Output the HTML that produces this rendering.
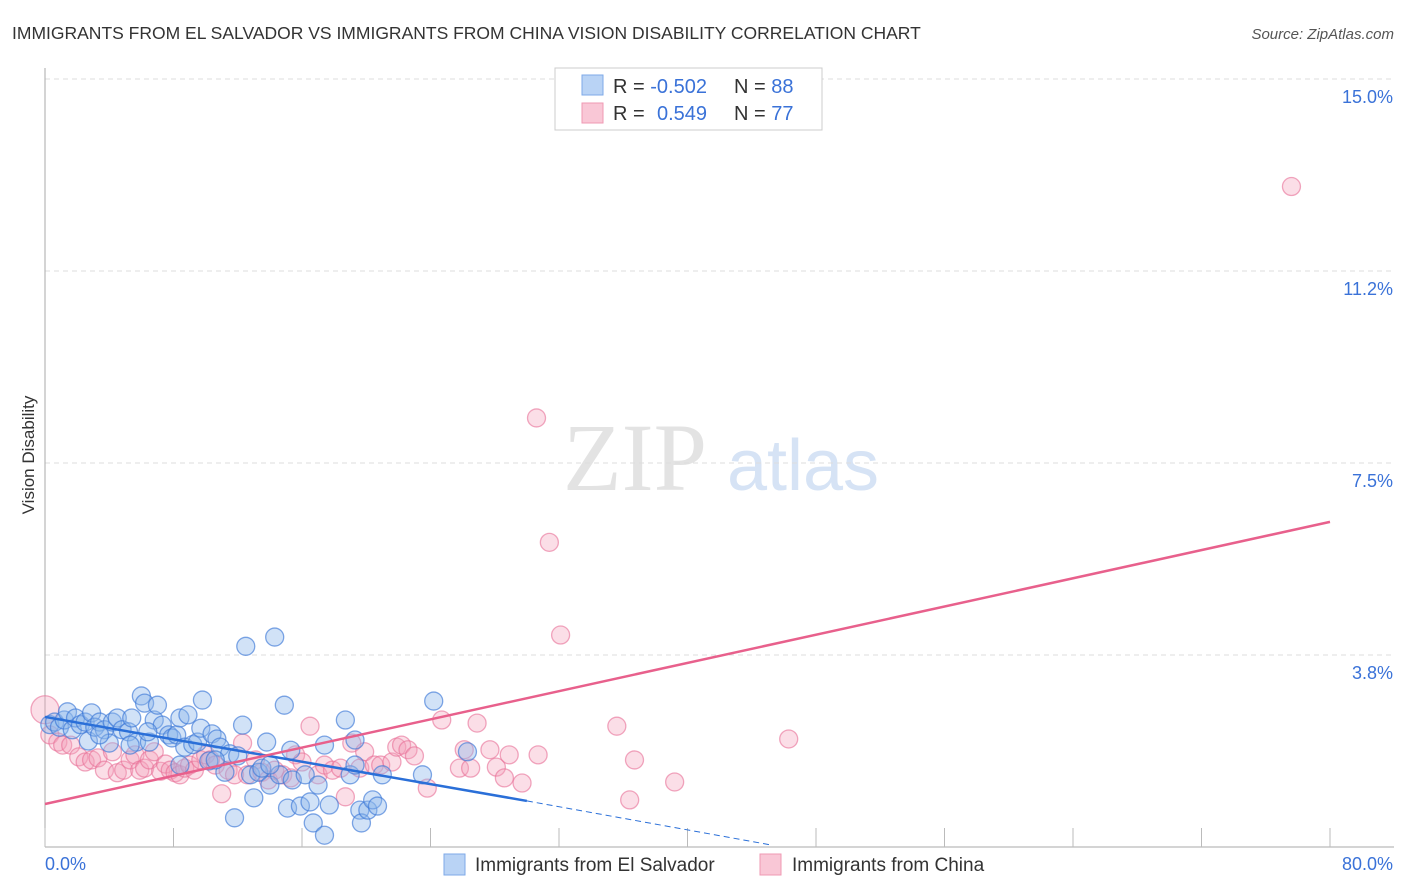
<!DOCTYPE html>
<html><head><meta charset="utf-8"><style>
body{margin:0;background:#fff;font-family:"Liberation Sans",sans-serif;}
svg{display:block}
</style></head><body>
<svg id="chart" width="1406" height="892" xmlns="http://www.w3.org/2000/svg">
<text x="12" y="39" font-size="17.5" fill="#333">IMMIGRANTS FROM EL SALVADOR VS IMMIGRANTS FROM CHINA VISION DISABILITY CORRELATION CHART</text>
<text x="1394" y="39" font-size="15" fill="#555" font-style="italic" text-anchor="end">Source: ZipAtlas.com</text>
<text x="34" y="455" font-size="17" fill="#333" text-anchor="middle" transform="rotate(-90 34 455)">Vision Disability</text>
<g><text x="635" y="490" font-size="96" fill="#e3e3e3" font-family="Liberation Serif,serif" text-anchor="middle">ZIP</text><text x="803" y="490" font-size="72" fill="#d6e3f5" text-anchor="middle">atlas</text></g>
<g id="grid"></g><g id="axes"></g><g id="pts"></g><g id="lines"></g>
<g>
<rect x="555" y="68" width="267" height="62" fill="#fff" stroke="#ccc"/>
<rect x="582" y="75" width="21" height="20" fill="#b9d3f5" stroke="#7eaae8"/>
<rect x="582" y="103" width="21" height="20" fill="#f9c7d6" stroke="#ef98b3"/>
<text x="613" y="93" font-size="20" fill="#333">R = <tspan fill="#3a72d8">-0.502</tspan></text>
<text x="734" y="93" font-size="20" fill="#333">N = <tspan fill="#3a72d8">88</tspan></text>
<text x="613" y="120" font-size="20" fill="#333">R = <tspan fill="#3a72d8" x="657">0.549</tspan></text>
<text x="734" y="120" font-size="20" fill="#333">N = <tspan fill="#3a72d8">77</tspan></text>
</g>
<g>
<rect x="444" y="854" width="21" height="21" fill="#b9d3f5" stroke="#7eaae8"/>
<text x="475" y="871" font-size="19" fill="#333">Immigrants from El Salvador</text>
<rect x="760" y="854" width="21" height="21" fill="#f9c7d6" stroke="#ef98b3"/>
<text x="792" y="871" font-size="19" fill="#333">Immigrants from China</text>
</g>
</svg>
<script>
const xTicks=[0,80];
const yTicks=[3.75,7.5,11.25,15];
const yTickLabels=["3.8%","7.5%","11.2%","15.0%"];
const blueX=[0.3,0.6,0.9,1.2,1.4,1.7,1.9,2.2,2.5,2.7,2.9,3.1,3.4,3.7,4.0,4.2,4.5,4.8,5.2,5.4,5.7,6.0,6.2,6.5,6.8,7.0,7.3,7.7,7.9,8.2,8.4,8.7,8.9,9.2,9.5,9.7,9.8,10.2,10.4,10.7,10.9,11.2,11.5,11.8,12.0,12.3,12.5,12.8,13.0,13.3,13.5,13.8,14.0,14.3,14.6,14.9,15.1,15.4,15.9,16.2,16.5,16.7,17.0,17.4,17.7,18.7,19.0,19.3,19.6,19.7,20.1,20.4,20.7,21.0,23.5,24.2,26.3,17.4,15.3,19.3,14.0,10.6,8.4,6.4,5.3,3.4];
const blueY=[2.39,2.44,2.34,2.48,2.64,2.29,2.52,2.39,2.44,2.07,2.62,2.34,2.44,2.29,2.03,2.44,2.52,2.29,2.25,2.52,2.05,2.95,2.81,2.05,2.48,2.77,2.38,2.19,2.13,2.19,2.52,1.95,2.58,2.0,2.05,2.32,2.87,1.68,2.21,2.11,1.95,1.46,1.82,0.57,1.78,2.38,3.92,1.41,0.96,1.46,1.54,2.05,1.21,4.1,1.41,2.77,0.76,1.31,0.8,1.41,0.88,0.47,1.21,0.23,0.82,2.48,1.41,1.6,0.72,0.47,0.72,0.92,0.8,1.41,1.41,2.85,1.86,1.99,1.89,2.09,1.6,1.70,1.60,2.25,1.99,2.19];
const pinkX=[0.0,0.3,0.8,1.1,1.6,2.1,2.5,2.9,3.3,3.7,4.2,4.5,4.9,5.3,5.6,5.9,6.2,6.5,6.8,7.2,7.5,7.8,8.1,8.4,8.7,9.0,9.3,9.7,10.0,10.3,10.6,11.0,11.4,11.8,12.3,12.6,13.1,13.5,13.9,14.3,14.8,15.3,15.6,16.0,16.5,17.0,17.4,17.9,18.4,18.7,19.1,19.6,19.9,20.5,20.9,21.6,21.9,22.2,22.6,23.0,23.8,24.7,25.8,26.1,26.5,26.9,27.7,28.1,28.6,28.9,29.7,30.7,31.4,30.6,32.1,35.6,36.4,36.7,39.2,46.3,77.6];
const pinkY=[2.68,2.19,2.05,1.99,1.99,1.76,1.66,1.70,1.74,1.50,1.86,1.45,1.50,1.70,1.80,1.50,1.54,1.70,1.86,1.48,1.62,1.50,1.45,1.41,1.54,1.60,1.50,1.70,1.80,1.70,1.60,1.04,1.50,1.41,2.03,1.41,1.70,1.46,1.31,1.50,1.41,1.35,1.80,1.66,2.36,1.41,1.60,1.50,1.54,0.98,2.03,1.54,1.86,1.60,1.60,1.66,1.95,1.99,1.90,1.78,1.15,2.48,1.54,1.90,1.54,2.42,1.90,1.56,1.35,1.80,1.25,1.80,5.95,8.38,4.14,2.36,0.92,1.70,1.27,2.11,12.9];
const blueLine=[0,2.54,30,0.90];const blueDash=[30,0.90,45.2,0.04];
const pinkLine=[0,0.84,80,6.35];
const X=v=>45+v*1285/80, Y=v=>847-v*51.2;
const NS="http://www.w3.org/2000/svg";
function mk(t,a,p){const e=document.createElementNS(NS,t);for(const k in a)e.setAttribute(k,a[k]);document.getElementById(p).appendChild(e);return e;}
yTicks.forEach((t,i)=>{
 const g=mk('line',{x1:45,x2:1394,y1:Y(t),y2:Y(t),stroke:'#ddd','stroke-dasharray':'5,4'},'grid');
 
 
 const l=mk('text',{x:1393,y:Y(t)+24,'font-size':18,fill:'#3a72d8','text-anchor':'end'},'axes');l.textContent=yTickLabels[i];
 
 
});
mk('line',{x1:45,x2:45,y1:68,y2:847,stroke:'#aaa'},'axes');
mk('line',{x1:45,x2:1394,y1:847,y2:847,stroke:'#aaa'},'axes');
for(let i=0;i<=10;i++){const t=mk('line',{x1:X(i*8),x2:X(i*8),y1:828,y2:847,stroke:'#bbb'},'axes');
 
 }
xTicks.forEach((t,i)=>{const l=mk('text',{x:i==0?45:1393,y:870,'font-size':18,fill:'#3a72d8','text-anchor':i==0?'start':'end'},'axes');l.textContent=t.toFixed(1)+'%';
 
 });
pinkX.forEach((x,i)=>{const c=mk('circle',{cx:X(x),cy:Y(pinkY[i]),r:i==0?14:9,fill:'rgba(244,160,186,0.35)',stroke:'rgba(232,110,150,0.6)','stroke-width':1.3},'pts');
 
 });
blueX.forEach((x,i)=>{const c=mk('circle',{cx:X(x),cy:Y(blueY[i]),r:9,fill:'rgba(140,182,236,0.4)',stroke:'rgba(60,120,215,0.65)','stroke-width':1.3},'pts');
 
 });
const bl=mk('line',{x1:X(blueLine[0]),y1:Y(blueLine[1]),x2:X(blueLine[2]),y2:Y(blueLine[3]),stroke:'#2a6fd8','stroke-width':2.5},'lines');


const bd=mk('line',{x1:X(blueDash[0]),y1:Y(blueDash[1]),x2:X(blueDash[2]),y2:Y(blueDash[3]),stroke:'#2a6fd8','stroke-width':1,'stroke-dasharray':'6,4'},'lines');


const pl=mk('line',{x1:X(pinkLine[0]),y1:Y(pinkLine[1]),x2:X(pinkLine[2]),y2:Y(pinkLine[3]),stroke:'#e8608c','stroke-width':2.5},'lines');


</script>
</body></html>
